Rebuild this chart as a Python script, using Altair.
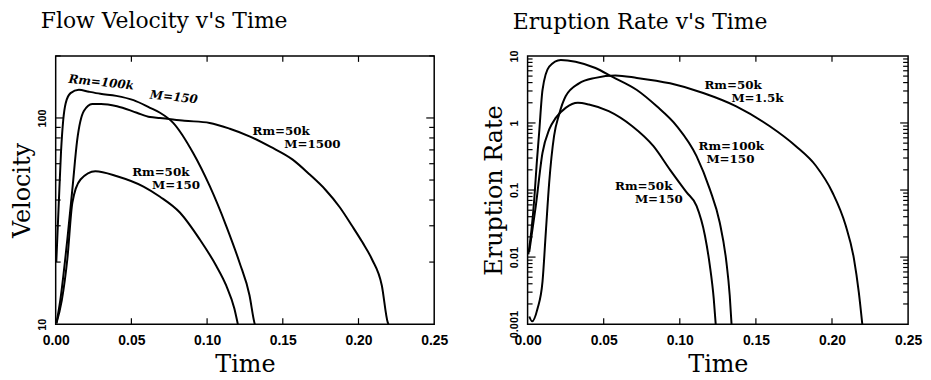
import altair as alt
import pandas as pd

# ---------------- Flow velocity panel data ----------------
vel_r100k_m150_t = [0.0004, 0.002, 0.0035, 0.005, 0.0066, 0.0098, 0.0153, 0.022, 0.0295, 0.04,
                    0.0514, 0.0623, 0.0689, 0.0776, 0.0907, 0.1017, 0.1126, 0.1214, 0.128, 0.1312,
                    0.1315]
vel_r100k_m150_v = [20, 38, 68, 98, 118, 132, 137, 134, 131, 128,
                    122, 112, 106, 94.7, 67.8, 46.8, 30, 19.9, 13.8, 10.2,
                    10]

vel_r50k_m1500_t = [0.0005, 0.003, 0.0077, 0.011, 0.0142, 0.0186, 0.0241, 0.030, 0.0405, 0.0536,
                    0.0623, 0.0689, 0.085, 0.1017, 0.115, 0.128, 0.142, 0.1563, 0.168, 0.178,
                    0.1875, 0.1957, 0.2025, 0.2088, 0.2154, 0.2193, 0.2198]
vel_r50k_m1500_v = [10.1, 13, 25.8, 45, 78, 108, 117, 117, 114, 106,
                    101, 100, 97, 94.6, 88.7, 81.5, 72.4, 63, 53, 45,
                    37, 30, 25, 20.7, 15.4, 10.2, 10]

vel_r50k_m150_t = [0.0005, 0.004, 0.0077, 0.011, 0.0164, 0.0262, 0.0405, 0.058, 0.0689, 0.082,
                   0.0951, 0.106, 0.1126, 0.118, 0.1203]
vel_r50k_m150_v = [10.1, 13, 20.7, 38.8, 50.3, 55.2, 52.2, 46.5, 41.5, 34.8,
                   25.8, 19.2, 15.4, 11.9, 10]

# ---------------- Eruption rate panel data ----------------
rate_r100k_m150_t = [0.0005, 0.0025, 0.0044, 0.006, 0.0076, 0.0098, 0.0142, 0.0218, 0.0315, 0.0446,
                     0.0555, 0.0718, 0.0849, 0.098, 0.111, 0.1197, 0.1262, 0.1306, 0.1328, 0.134]
rate_r100k_m150_v = [0.011, 0.025, 0.074, 0.25, 0.72, 3.1, 6.9, 8.7, 8.2, 6.6,
                     4.9, 3.1, 1.77, 0.9, 0.32, 0.103, 0.033, 0.0085, 0.0027, 0.001]

rate_r50k_m150_t = [0.0011, 0.0054, 0.0098, 0.0142, 0.0185, 0.025, 0.033, 0.0403, 0.0533, 0.0686,
                    0.0827, 0.0936, 0.1045, 0.111, 0.1165, 0.1197, 0.1223, 0.1236]
rate_r50k_m150_v = [0.012, 0.058, 0.36, 0.80, 1.19, 1.68, 2.0, 1.88, 1.50, 0.90,
                    0.45, 0.20, 0.092, 0.058, 0.021, 0.0076, 0.0024, 0.001]

rate_r50k_m1500_t = [0.0011, 0.003, 0.0065, 0.0098, 0.012, 0.0142, 0.0174, 0.0207, 0.025, 0.0338,
                     0.0446, 0.0577, 0.0718, 0.0936, 0.1154, 0.1371, 0.1589, 0.1763, 0.1894, 0.2003,
                     0.2089, 0.2144, 0.2176, 0.2199]
rate_r50k_m1500_v = [0.0013, 0.0011, 0.0017, 0.0043, 0.024, 0.13, 0.64, 1.34, 2.5, 3.9,
                     4.7, 5.1, 4.7, 3.9, 2.8, 1.77, 0.90, 0.45, 0.23, 0.092,
                     0.030, 0.0095, 0.003, 0.001]

# ---------------- labels ----------------
vel_lab_text = ["Rm=50k", "M=1500", "Rm=50k", "M=150"]
vel_lab_t = [0.130, 0.151, 0.0505, 0.0636]
vel_lab_v = [86.5, 74.8, 54.8, 47.4]
vel_tilt_text = ["Rm=100k", "M=150"]
vel_tilt_t = [0.0085, 0.0623]
vel_tilt_v = [155, 130]

rate_lab_text = ["Rm=50k", "M=1.5k", "Rm=100k", "M=150", "Rm=50k", "M=150"]
rate_lab_t = [0.1162, 0.1339, 0.1123, 0.1175, 0.0575, 0.0705]
rate_lab_v = [3.72, 2.39, 0.449, 0.288, 0.1146, 0.0736]

# ---------------- ticks ----------------
x_label_vals = [0.0, 0.05, 0.10, 0.15, 0.20, 0.25]
x_inner_ticks = [0.05, 0.10, 0.15, 0.20]
vel_label_vals = [10, 100]
vel_major = [100]
vel_minor = [20, 30, 40, 50, 60, 70, 80, 90, 200]
rate_label_vals = [0.001, 0.01, 0.1, 1, 10]
rate_major = [0.01, 0.1, 1]
rate_minor = [0.002, 0.003, 0.004, 0.005, 0.006, 0.007, 0.008, 0.009,
              0.02, 0.03, 0.04, 0.05, 0.06, 0.07, 0.08, 0.09,
              0.2, 0.3, 0.4, 0.5, 0.6, 0.7, 0.8, 0.9,
              2, 3, 4, 5, 6, 7, 8, 9]

W1, W2, H = 381, 383, 270
SERIF = "DejaVu Serif"
SANS = "Liberation Sans"


def series_df(pairs):
    frames = []
    for name, ts, vs in pairs:
        frames.append(pd.DataFrame({"t": ts, "v": vs, "s": name}))
    return pd.concat(frames, ignore_index=True)


def x_axis():
    return alt.Axis(values=x_label_vals, format=".2f", title="Time", ticks=False, domain=False,
                    grid=False, labelFont=SANS, labelFontWeight="bold", labelFontSize=14,
                    labelColor="black", labelPadding=9, labelFlush=False, labelOverlap=False,
                    titleFont=SERIF, titleFontSize=24, titleFontWeight="normal",
                    titleColor="black", titlePadding=6)


def y_axis(vals, title):
    return alt.Axis(values=vals, format="~g", title=title, ticks=False, domain=False, grid=False,
                    labelFont=SANS, labelFontWeight="bold", labelFontSize=11, labelColor="black",
                    labelAngle=270, labelAlign="center", labelBaseline="bottom", labelPadding=8,
                    labelFlush=False, labelOverlap=False,
                    titleFont=SERIF, titleFontSize=24, titleFontWeight="normal",
                    titleColor="black", titlePadding=2)


def panel(df, xs, ys, yvals, ytitle, W, major, minor, labels, tilted, title, toff):
    XA = x_axis()
    YA = y_axis(yvals, ytitle)
    lines = alt.Chart(df).mark_line(color="black", strokeWidth=2, interpolate="monotone",
                                    clip=True).encode(
        x=alt.X("t:Q", scale=xs, axis=XA),
        y=alt.Y("v:Q", scale=ys, axis=YA),
        detail="s:N",
    )
    xt = pd.DataFrame({"t": x_inner_ticks})
    bot = alt.Chart(xt).mark_rule(color="black", strokeWidth=1.2).encode(
        x=alt.X("t:Q", scale=xs, axis=XA), y=alt.value(H), y2=alt.value(H - 6))
    top = alt.Chart(xt).mark_rule(color="black", strokeWidth=1.2).encode(
        x=alt.X("t:Q", scale=xs, axis=XA), y=alt.value(0), y2=alt.value(6))
    mj = pd.DataFrame({"v": major})
    mn = pd.DataFrame({"v": minor})
    layers = [lines, bot, top]
    for d, ln in ((mj, 8), (mn, 5)):
        layers.append(alt.Chart(d).mark_rule(color="black", strokeWidth=1.2).encode(
            y=alt.Y("v:Q", scale=ys, axis=YA), x=alt.value(0), x2=alt.value(ln)))
        layers.append(alt.Chart(d).mark_rule(color="black", strokeWidth=1.2).encode(
            y=alt.Y("v:Q", scale=ys, axis=YA), x=alt.value(W), x2=alt.value(W - ln)))
    lab_df = pd.DataFrame({"t": labels[1], "v": labels[2], "txt": labels[0]})
    layers.append(alt.Chart(lab_df).mark_text(font=SERIF, fontWeight="bold", fontSize=12,
                                              align="left", baseline="middle", color="black").encode(
        x=alt.X("t:Q", scale=xs, axis=XA), y=alt.Y("v:Q", scale=ys, axis=YA), text="txt:N"))
    if tilted is not None:
        tdf = pd.DataFrame({"t": tilted[1], "v": tilted[2], "txt": tilted[0]})
        layers.append(alt.Chart(tdf).mark_text(font=SERIF, fontWeight="bold", fontStyle="italic",
                                               fontSize=12, angle=6, align="left",
                                               baseline="middle", color="black").encode(
            x=alt.X("t:Q", scale=xs, axis=XA), y=alt.Y("v:Q", scale=ys, axis=YA),
            text="txt:N"))
    return alt.layer(*layers).properties(
        width=W, height=H,
        title=alt.TitleParams(title, font=SERIF, fontSize=22, fontWeight="normal", color="black",
                              anchor="start", frame="bounds", dx=30, offset=toff))


xs1 = alt.Scale(domain=[0, 0.25], nice=False, zero=False)
ys1 = alt.Scale(type="log", domain=[10, 200], nice=False)
xs2 = alt.Scale(domain=[0, 0.25], nice=False, zero=False)
ys2 = alt.Scale(type="log", domain=[0.001, 10], nice=False)

vel_df = series_df([
    ("r100k_m150", vel_r100k_m150_t, vel_r100k_m150_v),
    ("r50k_m1500", vel_r50k_m1500_t, vel_r50k_m1500_v),
    ("r50k_m150", vel_r50k_m150_t, vel_r50k_m150_v),
])
rate_df = series_df([
    ("r100k_m150", rate_r100k_m150_t, rate_r100k_m150_v),
    ("r50k_m1500", rate_r50k_m1500_t, rate_r50k_m1500_v),
    ("r50k_m150", rate_r50k_m150_t, rate_r50k_m150_v),
])

left = panel(vel_df, xs1, ys1, vel_label_vals, "Velocity", W1, vel_major, vel_minor,
             (vel_lab_text, vel_lab_t, vel_lab_v), (vel_tilt_text, vel_tilt_t, vel_tilt_v),
             "Flow Velocity v's Time", 22)
right = panel(rate_df, xs2, ys2, rate_label_vals, "Eruption Rate", W2, rate_major, rate_minor,
              (rate_lab_text, rate_lab_t, rate_lab_v), None,
              "Eruption Rate v's Time", 16)

chart = alt.hconcat(left, right, spacing=94, bounds="flush").properties(
    padding={"left": 2, "top": 0, "right": 0, "bottom": 0}, background="white"
).configure_view(stroke="black", strokeWidth=1.5)

chart.save("out.html", embed_options={"renderer": "svg", "actions": False})
